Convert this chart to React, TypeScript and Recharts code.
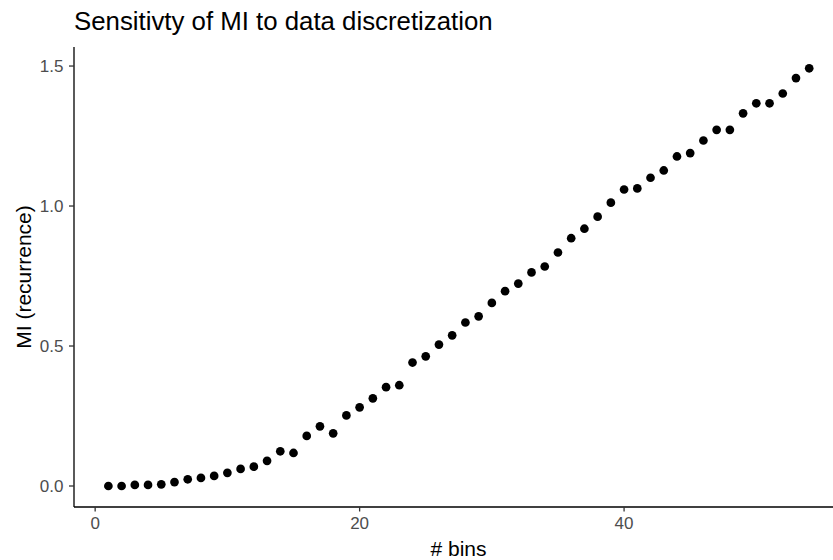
import React from "react";
import { ScatterChart, Scatter, XAxis, YAxis, Label } from "recharts";

const bins = [
  1, 2, 3, 4, 5, 6, 7, 8, 9, 10, 11, 12, 13, 14, 15, 16, 17, 18, 19, 20, 21, 22, 23, 24, 25, 26, 27,
  28, 29, 30, 31, 32, 33, 34, 35, 36, 37, 38, 39, 40, 41, 42, 43, 44, 45, 46, 47, 48, 49, 50, 51, 52,
  53, 54,
];

const mi = [
  0.0, 0.0, 0.004, 0.004, 0.006, 0.014, 0.024, 0.029, 0.036, 0.047, 0.061, 0.069, 0.09, 0.124,
  0.118, 0.179, 0.213, 0.188, 0.252, 0.281, 0.313, 0.353, 0.36, 0.441, 0.463, 0.505, 0.538, 0.584,
  0.606, 0.654, 0.696, 0.723, 0.763, 0.784, 0.834, 0.885, 0.919, 0.962, 1.012, 1.059, 1.063, 1.101,
  1.127, 1.177, 1.189, 1.234, 1.272, 1.272, 1.331, 1.367, 1.367, 1.402, 1.457, 1.492,
];

const xTicks = [0, 20, 40];
const yTicks = [0, 0.5, 1.0, 1.5];
const yTickLabels = ["0.0", "0.5", "1.0", "1.5"];

const titleText = "Sensitivty of MI to data discretization";
const xTitle = "# bins";
const yTitle = "MI (recurrence)";

const data = bins.map((b, i) => ({ bins: b, mi: mi[i] }));

const FONT = "'Liberation Sans', Arial, Helvetica, sans-serif";

const Dot = (props: any) => {
  const { cx, cy } = props;
  if (cx == null || cy == null) return null;
  return <circle cx={cx} cy={cy} r={4.35} fill="#000000" />;
};

const XTitle = (props: any) => {
  const vb = props.viewBox || {};
  return (
    <text
      x={vb.x + vb.width / 2 + 5}
      y={vb.y + vb.height - 4}
      textAnchor="middle"
      fontSize={21}
      fontFamily={FONT}
      fill="#000000"
    >
      {xTitle}
    </text>
  );
};

const YTitle = (props: any) => {
  const vb = props.viewBox || {};
  const cx = vb.x + 31;
  const cy = vb.y + vb.height / 2;
  return (
    <text
      x={cx}
      y={cy}
      transform={`rotate(-90 ${cx} ${cy})`}
      textAnchor="middle"
      fontSize={21}
      fontFamily={FONT}
      fill="#000000"
    >
      {yTitle}
    </text>
  );
};

export default function App() {
  return (
    <div
      style={{
        position: "absolute",
        left: 0,
        top: 0,
        width: 833,
        height: 560,
        background: "#ffffff",
        fontFamily: FONT,
      }}
    >
      <div
        style={{
          position: "absolute",
          left: 74,
          top: 9.3,
          fontSize: 25.8,
          lineHeight: 1,
          color: "#000000",
          whiteSpace: "nowrap",
        }}
      >
        {titleText}
      </div>
      <ScatterChart
        width={833}
        height={560}
        margin={{ top: 47, right: 0, bottom: 0, left: 0 }}
      >
        <XAxis
          type="number"
          dataKey="bins"
          domain={[-1.6, 55.8]}
          ticks={xTicks}
          allowDataOverflow
          height={53}
          axisLine={{ stroke: "#000000", strokeWidth: 1.3 }}
          tickLine={{ stroke: "#333333", strokeWidth: 1.3 }}
          tickSize={4.5}
          tickMargin={5.7}
          tick={{ fill: "#4d4d4d", fontSize: 17, fontFamily: FONT }}
          label={<Label content={<XTitle />} />}
        />
        <YAxis
          type="number"
          dataKey="mi"
          domain={[-0.075, 1.568]}
          ticks={yTicks}
          tickFormatter={(v: number) => yTickLabels[yTicks.indexOf(v)] ?? String(v)}
          allowDataOverflow
          width={74}
          axisLine={{ stroke: "#000000", strokeWidth: 1.3 }}
          tickLine={{ stroke: "#333333", strokeWidth: 1.3 }}
          tickSize={5}
          tickMargin={5.5}
          tick={{ fill: "#4d4d4d", fontSize: 17, fontFamily: FONT }}
          label={<Label content={<YTitle />} />}
        />
        <Scatter data={data} shape={<Dot />} isAnimationActive={false} />
      </ScatterChart>
    </div>
  );
}
